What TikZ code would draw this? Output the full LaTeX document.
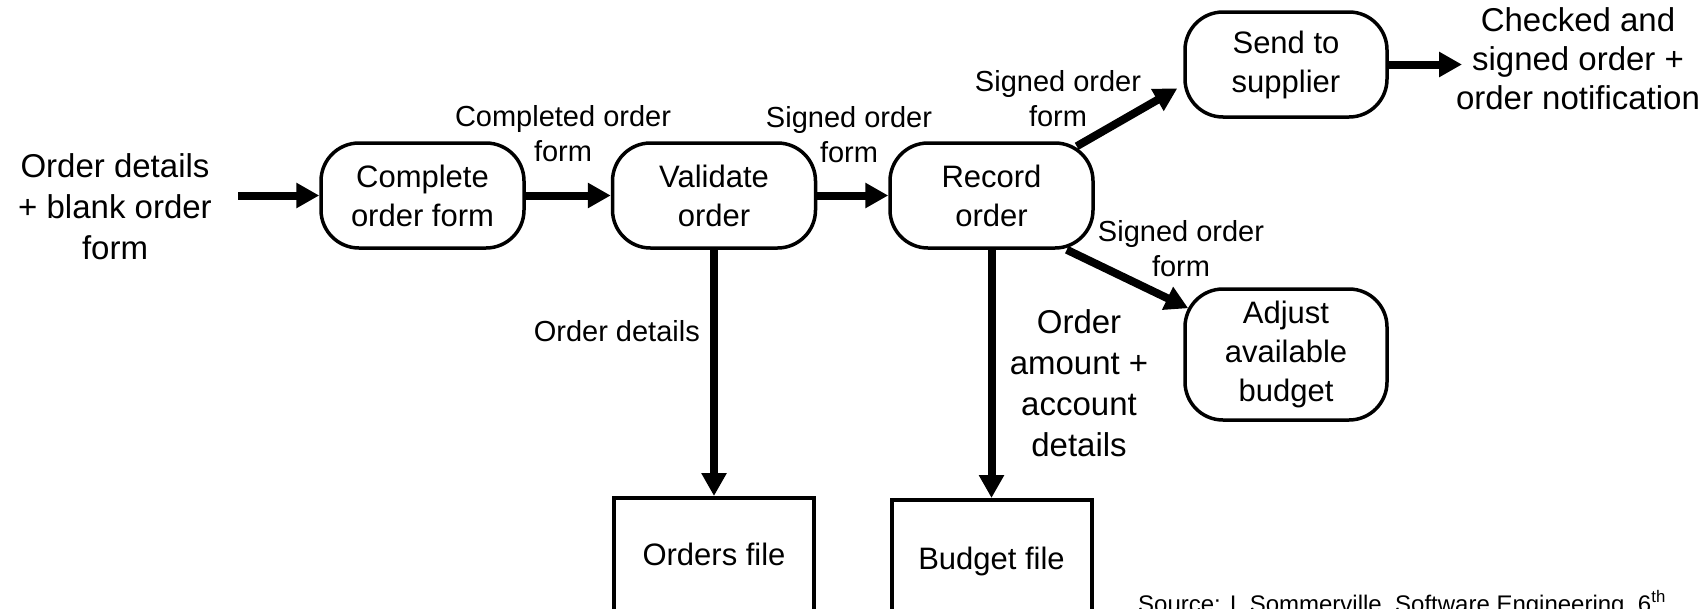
\documentclass[tikz,border=0pt]{standalone}
\usepackage{fontspec}
\setmainfont{Liberation Sans}
\usetikzlibrary{arrows.meta}
\begin{document}
\begin{tikzpicture}[x=1pt,y=-1pt,
  proc/.style={draw, line width=3.5pt, rounded corners=38pt, minimum width=203pt, minimum height=105pt, align=center, font=\fontsize{31}{39}\selectfont, inner sep=0pt},
  store/.style={draw, line width=4pt, minimum width=200pt, inner xsep=0pt, inner ysep=44pt, text depth=40pt, font=\fontsize{31}{39}\selectfont},
  lbl/.style={align=center, inner sep=0pt, font=\fontsize{29}{35}\selectfont},
  big/.style={align=center, inner sep=0pt, font=\fontsize{33}{41}\selectfont},
  arr/.style={line width=8pt, -{Triangle[length=23pt,width=24pt]}},
]
\fill[white] (0,0) rectangle (1707,608);
\useasboundingbox (0,0) rectangle (1707,608);

% process boxes
\node[proc] (complete) at (422.5,195.5) {Complete\\order form};
\node[proc] (validate) at (714,195.5) {Validate\\order};
\node[proc] (record) at (991.5,195.5) {Record\\order};
\node[proc, minimum width=202pt] (send) at (1286,64.5) {Send to\\supplier};
\node[proc, minimum width=202pt, minimum height=131pt] (adjust) at (1286,354.5) {Adjust\\available\\budget};

% stores
\node[store, anchor=north, text height=23pt] (orders) at (714,496) {Orders file};
\node[store, anchor=north, text height=25pt] (budget) at (991.5,498) {Budget file};

% external texts
\node[big] (input) at (115,206.5) {Order details\\+ blank order\\form};
\node[big, font=\fontsize{33}{39}\selectfont] (output) at (1578,59) {Checked and\\signed order +\\order notification};
\coordinate (inStart) at (238,195.5);
\coordinate (outEnd) at (1462,64.5);

% connectors
\draw[arr] (inStart) -- (complete.west);
\draw[arr] (complete) -- (validate);
\draw[arr] (validate) -- (record);
\draw[arr] ([xshift=-18pt,yshift=-5pt]record.north east) -- ([xshift=-6pt,yshift=-24pt]send.west);
\draw[arr] ([xshift=-28pt]record.south east) -- ([xshift=5pt,yshift=-21pt]adjust.north west);
\draw[arr] (send.east) -- (outEnd);
\draw[arr] (validate.south) -- (orders.north);
\draw[arr] (record.south) -- (budget.north);

% labels
\node[lbl] (l1) at (563,134) {Completed order\\form};
\node[lbl] (l2) at (849,135) {Signed order\\form};
\node[lbl] (l3) at (1058,99) {Signed order\\form};
\node[lbl] (l4) at (1181,248.5) {Signed order\\form};
\node[lbl, anchor=east] (l5) at (700,331.5) {Order details};
\node[big] (l6) at (1079,383) {Order\\amount +\\account\\details};

\node[anchor=base west, inner sep=0pt, font=\fontsize{24}{29}\selectfont] (src) at (1138,612) {Source: I. Sommerville, Software Engineering, 6\textsuperscript{th}};
\end{tikzpicture}
\end{document}
